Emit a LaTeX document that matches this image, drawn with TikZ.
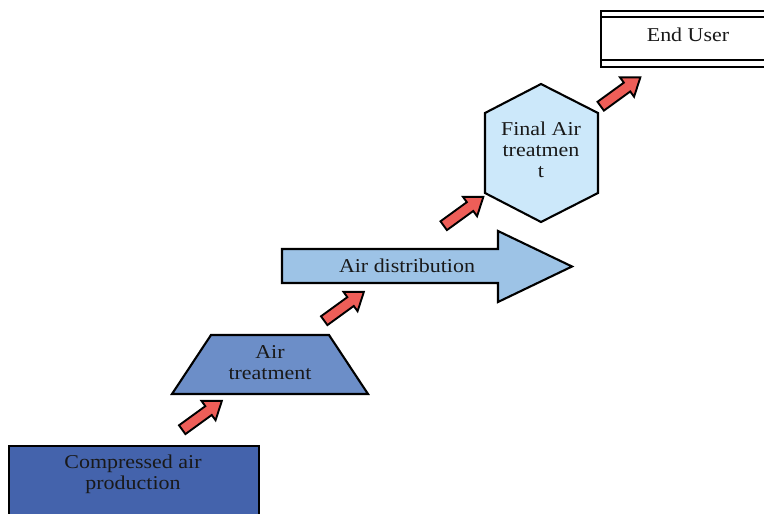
\documentclass[tikz,border=0pt]{standalone}
\usepackage{fontspec}
\setmainfont{Liberation Serif}[FakeStretch=1.12]
\usetikzlibrary{shapes.arrows}
\definecolor{prodblue}{RGB}{68,99,172}
\definecolor{treatblue}{RGB}{108,142,200}
\definecolor{distblue}{RGB}{157,195,230}
\definecolor{finalblue}{RGB}{204,232,250}
\definecolor{arrowred}{RGB}{238,94,88}

\tikzset{
    box/.style={draw=black, line width=2.1pt, line join=miter},
    boxtext/.style={font=\fontsize{19.6}{21}\selectfont, align=center, text=black!90},
    flowarrow/.style={single arrow, draw=black, line width=1.9pt, fill=arrowred,
        inner xsep=0pt, inner ysep=4.5pt, single arrow head extend=6.5pt,
        single arrow tip angle=72, minimum height=49pt, rotate=36}
}

\begin{document}
\begin{tikzpicture}[x=1pt, y=-1pt]
    \useasboundingbox (0,0) rectangle (764,514);
    \clip (0,0) rectangle (764,514);

    % stages
    \draw[box, fill=prodblue] (9,530) -- (9,446) -- (259,446) -- (259,530);
    \draw[box, fill=treatblue] (172,394) -- (211,335) -- (329,335) -- (368,394) -- cycle;
    \draw[box, fill=distblue] (282,249) -- (498,249) -- (498,231) -- (572,266.5)
        -- (498,302) -- (498,283) -- (282,283) -- cycle;
    \draw[box, fill=finalblue] (541,84) -- (598,113) -- (598,193) -- (541,222)
        -- (485,193) -- (485,113) -- cycle;
    \draw[box, fill=white] (601,11) rectangle (775,67);
    \draw[box] (601,17) -- (775,17) (601,60) -- (775,60);

    \node[boxtext] (prod) at (133,474) {Compressed air\\production};
    \node[boxtext] (treat) at (270,363) {Air\\treatment};
    \node[boxtext] (dist) at (407,266) {Air distribution};
    \node[boxtext] (final) at (541,150) {Final Air\\treatmen\\t};
    \node[boxtext] (user) at (688,35) {End User};

    % red arrows
    \node[flowarrow] (up1) at (199,417.5) {};
    \node[flowarrow] (up2) at (341,308.5) {};
    \node[flowarrow] (up3) at (460.5,213.5) {};
    \node[flowarrow] (up4) at (617.5,94) {};

\end{tikzpicture}
\end{document}
